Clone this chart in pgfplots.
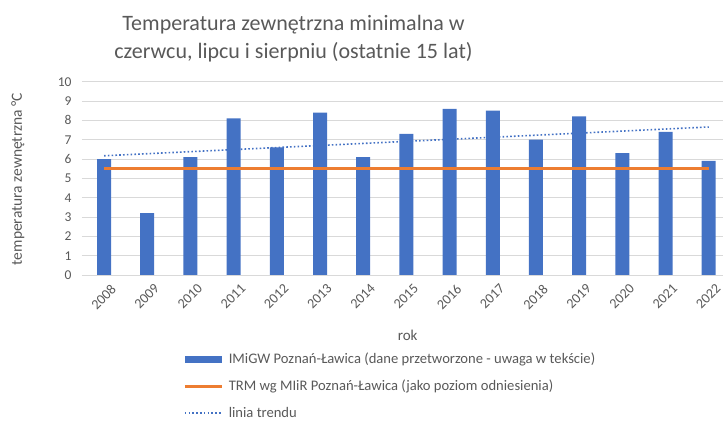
\documentclass[border=0pt]{standalone}
\usepackage{pgfplots}
\pgfplotsset{compat=1.18}
\usepackage{fontspec}
\setmainfont{Carlito}

\definecolor{barblue}{HTML}{4472C4}
\definecolor{trmorange}{HTML}{ED7D31}
\definecolor{txtgray}{HTML}{595959}
\definecolor{gridgray}{HTML}{D9D9D9}

\begin{document}
\begin{tikzpicture}[x=1pt,y=1pt]
  \begin{axis}[
    at={(82pt,151pt)}, anchor=south west,
    scale only axis,
    width=641pt, height=193.3pt,
    xmin=-0.51, xmax=14.33,
    ymin=0, ymax=10,
    xtick={0,...,14},
    xticklabels={2008,2009,2010,2011,2012,2013,2014,2015,2016,2017,2018,2019,2020,2021,2022},
    ytick={0,...,10},
    axis line style={draw=none},
    major tick length=0pt,
    ymajorgrids,
    grid style={gridgray, line width=0.8pt},
    /pgf/number format/assume math mode=true,
    tick label style={font=\fontsize{13.5}{13.5}\selectfont, text=txtgray},
    yticklabel style={xshift=-7pt},
    xticklabel style={rotate=45, anchor=east, font=\fontsize{14}{14}\selectfont,
      xshift=2pt, yshift=-15pt},
    title={Temperatura zewnętrzna minimalna w\\czerwcu, lipcu i sierpniu (ostatnie 15 lat)},
    title style={at={(0.330,1.19)}, anchor=center, align=center,
      font=\fontsize{22}{28}\selectfont, text=txtgray},
    xlabel={rok},
    xlabel style={at={(0.508,-0.31)}, anchor=center,
      font=\fontsize{15}{15}\selectfont, text=txtgray},
    ylabel={temperatura zewnętrzna °C},
    ylabel style={at={(-0.1,0.497)}, anchor=center,
      font=\fontsize{15.5}{15.5}\selectfont, text=txtgray},
    legend style={at={(0.153,-0.385)}, anchor=north west, draw=none, fill=none,
      font=\fontsize{14.6}{14.6}\selectfont, text=txtgray,
      row sep=12pt, cells={anchor=west},
      nodes={inner sep=1.5pt}},
    legend cell align=left,
  ]
  \addplot[ybar, bar width=14pt, fill=barblue, draw=none,
    legend image code/.code={\fill[barblue] (0pt,-3.5pt) rectangle (37pt,3.5pt);}]
    coordinates {
    (0,6.0) (1,3.2) (2,6.1) (3,8.1) (4,6.6) (5,8.4) (6,6.1) (7,7.3)
    (8,8.6) (9,8.5) (10,7.0) (11,8.2) (12,6.3) (13,7.4) (14,5.9)
  };
  \addplot[trmorange, line width=3pt,
    legend image code/.code={\draw[trmorange, line width=3pt] (0pt,0pt) -- (37pt,0pt);}]
    coordinates {(0,5.5) (14,5.5)};
  \addplot[barblue, line width=1.6pt, dash pattern=on 1.6pt off 2.2pt,
    legend image code/.code={\draw[barblue, line width=1.6pt, dash pattern=on 1.6pt off 2.2pt] (0pt,0pt) -- (37pt,0pt);}]
    coordinates {(0,6.168) (14,7.658)};
  \legend{\hspace{4pt}IMiGW Poznań-Ławica (dane przetworzone - uwaga w tekście),
    \hspace{4pt}TRM wg MIiR Poznań-Ławica (jako poziom odniesienia),
    \hspace{4pt}linia trendu}
  \end{axis}
  \pgfresetboundingbox
  \path[use as bounding box] (0,0) rectangle (724,426);
\end{tikzpicture}
\end{document}
